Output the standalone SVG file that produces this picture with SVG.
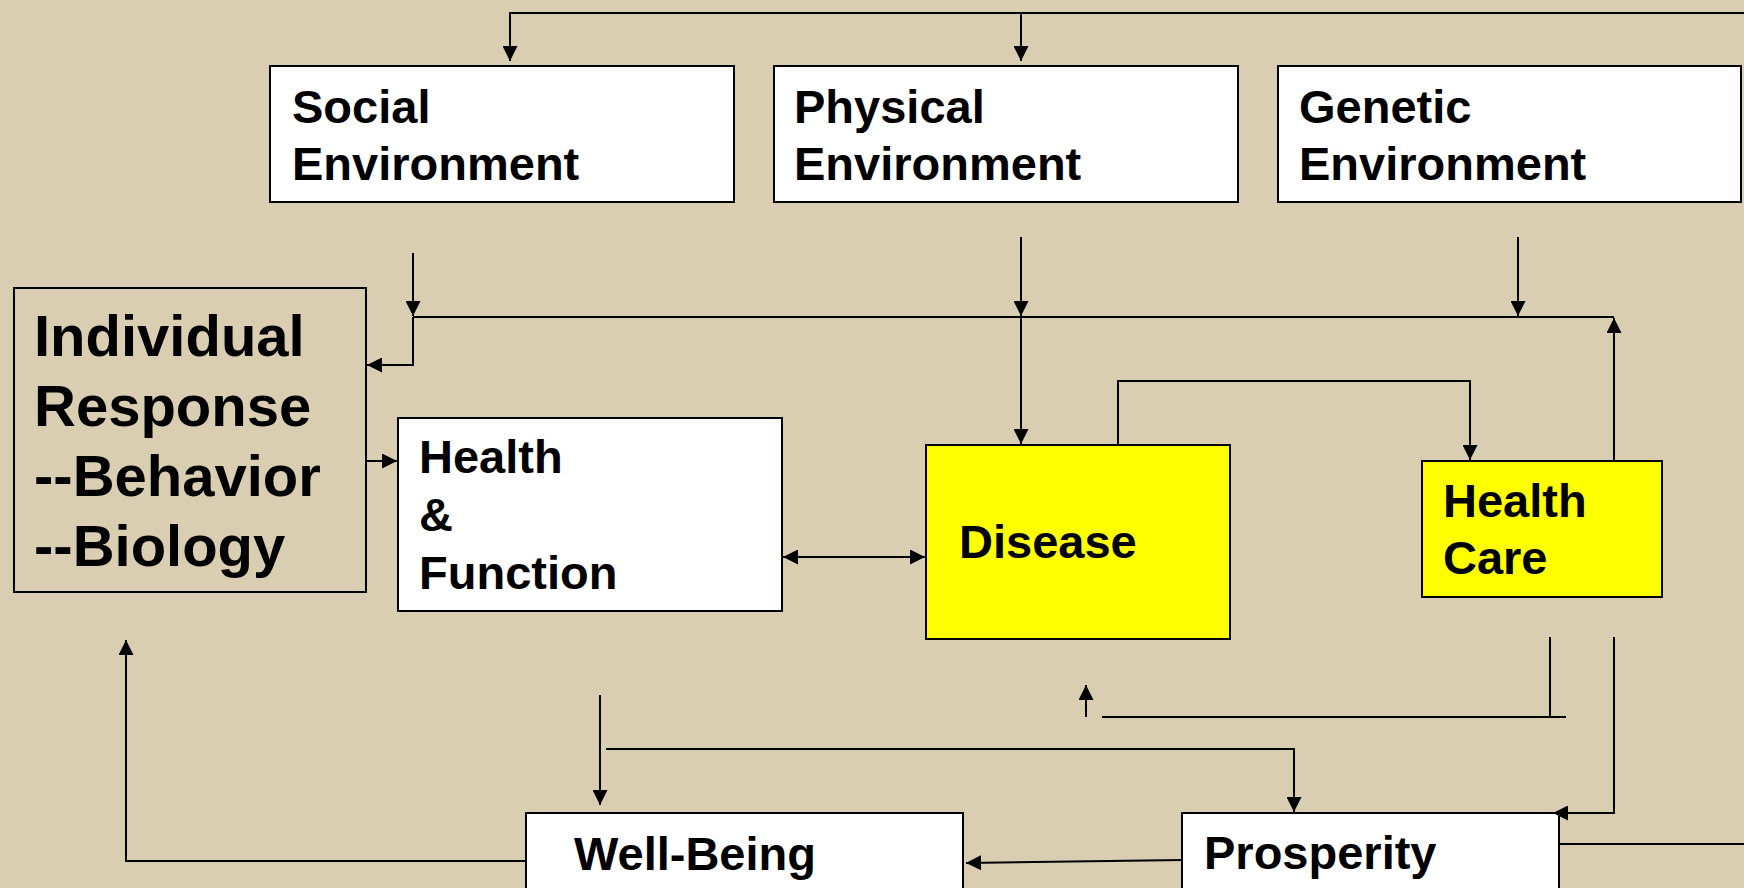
<svg xmlns="http://www.w3.org/2000/svg" width="1744" height="888" viewBox="0 0 1744 888">
<style>
.box{stroke:#000;stroke-width:2}
.w{fill:#fff}
.y{fill:#ffff00}
.t{fill:#d9cdb2}
.lbl{font-family:"Liberation Sans",Arial,sans-serif;font-weight:bold;fill:#000;font-size:47px}
.big{font-size:58px}
.c{fill:none;stroke:#000;stroke-width:2}
.a{marker-end:url(#ah)}
.as{marker-start:url(#ahs)}
</style>
<defs>
<marker id="ah" viewBox="0 0 16 16" refX="16" refY="8" markerWidth="16" markerHeight="15" markerUnits="userSpaceOnUse" orient="auto">
<path d="M0,0 L16,8 L0,16 z" fill="#000"/>
</marker>
<marker id="ahs" viewBox="0 0 16 16" refX="0" refY="8" markerWidth="16" markerHeight="15" markerUnits="userSpaceOnUse" orient="auto">
<path d="M16,0 L0,8 L16,16 z" fill="#000"/>
</marker>
</defs>
<rect x="0" y="0" width="1744" height="888" fill="#d9cdb2"/>

<g id="social">
<rect class="box w" x="270" y="66" width="464" height="136"/>
<text class="lbl" x="292" y="123">Social</text>
<text class="lbl" x="292" y="180">Environment</text>
</g>
<g id="physical">
<rect class="box w" x="774" y="66" width="464" height="136"/>
<text class="lbl" x="794" y="123">Physical</text>
<text class="lbl" x="794" y="180">Environment</text>
</g>
<g id="genetic">
<rect class="box w" x="1278" y="66" width="463" height="136"/>
<text class="lbl" x="1299" y="123">Genetic</text>
<text class="lbl" x="1299" y="180">Environment</text>
</g>
<g id="individual">
<rect class="box t" x="14" y="288" width="352" height="304"/>
<text class="lbl big" x="34" y="356">Individual</text>
<text class="lbl big" x="34" y="426">Response</text>
<text class="lbl big" x="34" y="496">--Behavior</text>
<text class="lbl big" x="34" y="566">--Biology</text>
</g>
<g id="health-function">
<rect class="box w" x="398" y="418" width="384" height="193"/>
<text class="lbl" x="419" y="473">Health</text>
<text class="lbl" x="419" y="531">&amp;</text>
<text class="lbl" x="419" y="589">Function</text>
</g>
<g id="disease">
<rect class="box y" x="926" y="445" width="304" height="194"/>
<text class="lbl" x="959" y="558">Disease</text>
</g>
<g id="health-care">
<rect class="box y" x="1422" y="461" width="240" height="136"/>
<text class="lbl" x="1443" y="517">Health</text>
<text class="lbl" x="1443" y="574">Care</text>
</g>
<g id="well-being">
<rect class="box w" x="526" y="813" width="437" height="90"/>
<text class="lbl" x="574" y="870">Well-Being</text>
</g>
<g id="prosperity">
<rect class="box w" x="1182" y="813" width="377" height="90"/>
<text class="lbl" x="1204" y="869">Prosperity</text>
</g>

<g id="connectors">
<polyline class="c a" points="1744,13 510,13 510,61"/>
<line class="c a" x1="1021" y1="13" x2="1021" y2="61"/>
<line class="c a" x1="413" y1="253" x2="413" y2="316"/>
<line class="c" x1="413" y1="317" x2="1614" y2="317"/>
<polyline class="c a" points="413,317 413,365 367,365"/>
<line class="c a" x1="1021" y1="237" x2="1021" y2="316"/>
<line class="c a" x1="1021" y1="317" x2="1021" y2="444"/>
<line class="c a" x1="1518" y1="237" x2="1518" y2="316"/>
<line class="c a" x1="1614" y1="461" x2="1614" y2="318"/>
<polyline class="c a" points="1118,445 1118,381 1470,381 1470,460"/>
<line class="c a" x1="366" y1="461" x2="397" y2="461"/>
<line class="c a as" x1="783" y1="557" x2="925" y2="557"/>
<line class="c" x1="1550" y1="637" x2="1550" y2="717"/>
<line class="c" x1="1102" y1="717" x2="1566" y2="717"/>
<line class="c a" x1="1086" y1="717" x2="1086" y2="685"/>
<polyline class="c a" points="1614,637 1614,813 1553,813"/>
<line class="c" x1="1559" y1="844" x2="1744" y2="844"/>
<polyline class="c a" points="606,749 1294,749 1294,812"/>
<line class="c a" x1="600" y1="695" x2="600" y2="805"/>
<line class="c a" x1="1182" y1="860" x2="966" y2="863"/>
<polyline class="c a" points="526,861 126,861 126,640"/>
</g>
</svg>
